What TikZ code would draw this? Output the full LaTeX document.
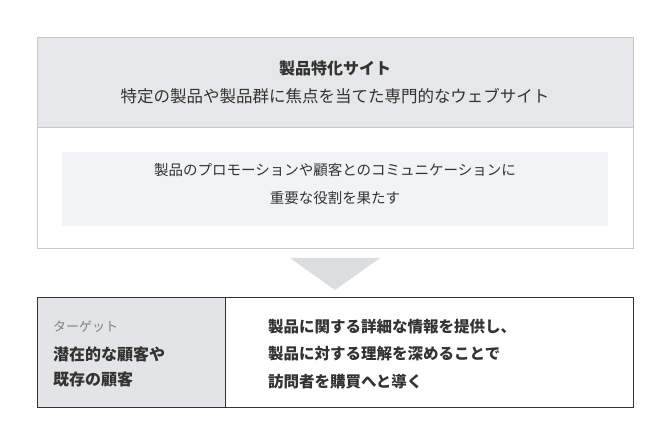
\documentclass[tikz,border=0pt]{standalone}
\usepackage{fontspec}
\setmainfont{Noto Sans CJK JP}
\definecolor{hdr}{HTML}{E6E7E8}
\definecolor{bordc}{HTML}{C8C8C8}
\definecolor{inner}{HTML}{F0F4F5}
\definecolor{txt}{HTML}{333333}
\definecolor{arr}{HTML}{DCDDDE}
\definecolor{lcell}{HTML}{E3E4E6}
\begin{document}
\begin{tikzpicture}[x=1pt,y=-1pt,
  txtn/.style={text=txt,align=center,inner sep=0pt},
  ]
\useasboundingbox (0,0) rectangle (670,446);
\fill[white] (0,0) rectangle (670,446);
% top box
\fill[hdr] (37,37) rectangle (633,127);
\draw[bordc,line width=0.8pt] (37,37) rectangle (633,248);
\draw[bordc,line width=0.8pt] (37,127) -- (633,127);
\node[txtn,font=\bfseries\fontsize{16}{18}\selectfont] (title) at (335,68) {製品特化サイト};
\node[txtn,font=\fontsize{16.5}{18}\selectfont] (sub) at (335,96) {特定の製品や製品群に焦点を当てた専門的なウェブサイト};
\fill[inner] (62,152) rectangle (608,226);
\node[txtn,font=\fontsize{14.5}{28}\selectfont] (desc) at (335,184) {製品のプロモーションや顧客とのコミュニケーションに\\重要な役割を果たす};
% arrow
\fill[arr] (290,258) -- (380,258) -- (335,290) -- cycle;
% bottom box
\fill[lcell] (37,298) rectangle (225,408);
\draw[txt,line width=1pt] (37,298) rectangle (633,408);
\draw[txt,line width=1pt] (225,298) -- (225,408);
\node[inner sep=0pt,anchor=west,text=gray,font=\fontsize{13}{15}\selectfont] (tg) at (53,327) {ターゲット};
\node[inner sep=0pt,anchor=west,text=txt,align=left,font=\bfseries\fontsize{16}{25}\selectfont] (who) at (53,367) {潜在的な顧客や\\既存の顧客};
\node[inner sep=0pt,anchor=west,text=txt,align=left,font=\bfseries\fontsize{15.5}{27.5}\selectfont] (what) at (268,354) {製品に関する詳細な情報を提供し、\\製品に対する理解を深めることで\\訪問者を購買へと導く};
\end{tikzpicture}
\end{document}
